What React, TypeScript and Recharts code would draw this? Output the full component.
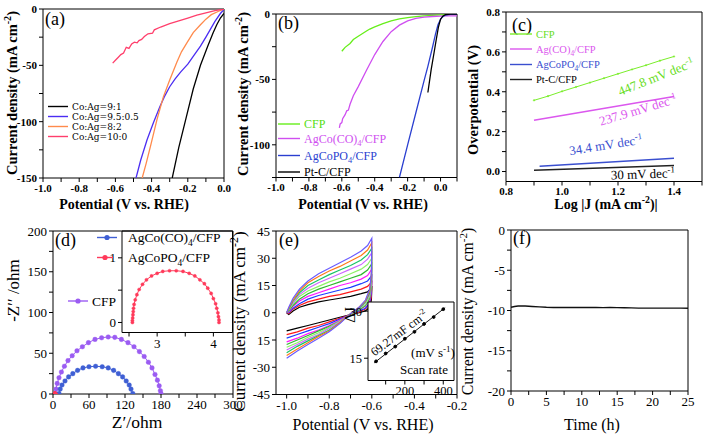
import React from 'react'
import { LineChart, Line, XAxis, YAxis, ReferenceArea, CartesianGrid } from 'recharts'

const SERIF = '"Liberation Serif", "Times New Roman", "DejaVu Serif", serif'
const WIDE_SERIF = '"DejaVu Serif", serif'

// (a) LSV, Co:Ag ratios  [potential (V vs RHE), current density (mA cm-2)]
const A_9_1 = [[0, -4], [-0.02, -8], [-0.04, -14], [-0.06, -21], [-0.09, -33], [-0.13, -50], [-0.17, -71], [-0.21, -97], [-0.25, -123], [-0.286, -150]]
const A_95_05 = [[0, -0.5], [-0.02, -4], [-0.05, -11], [-0.1, -25], [-0.13, -33], [-0.17, -42], [-0.2, -49], [-0.24, -56], [-0.27, -62], [-0.3, -69], [-0.33, -78], [-0.355, -87], [-0.39, -101], [-0.425, -116], [-0.46, -134], [-0.486, -150]]
const A_8_2 = [[0, 0], [-0.03, -2], [-0.07, -5], [-0.1, -9], [-0.13, -14], [-0.17, -21], [-0.205, -30], [-0.235, -38], [-0.26, -47], [-0.28, -55], [-0.3, -63], [-0.335, -78], [-0.37, -98], [-0.405, -121], [-0.43, -137], [-0.452, -150]]
const A_10_0 = [[0, 0], [-0.05, -1.5], [-0.1, -3.5], [-0.15, -5.5], [-0.2, -8], [-0.25, -10.5], [-0.3, -13], [-0.35, -16], [-0.385, -18.5], [-0.395, -21.5], [-0.42, -22], [-0.44, -24.5], [-0.455, -27], [-0.47, -28], [-0.48, -30], [-0.495, -29.5], [-0.51, -31], [-0.525, -35], [-0.54, -34], [-0.555, -39], [-0.57, -40.5], [-0.585, -43], [-0.6, -45.5], [-0.615, -48]]

// (b) LSV, catalysts
const B_CFP = [[0.1, -0.4], [0.05, -0.5], [0, -0.7], [-0.05, -1], [-0.1, -1.4], [-0.15, -2], [-0.2, -2.7], [-0.25, -3.8], [-0.3, -5.3], [-0.35, -7.3], [-0.4, -9.8], [-0.43, -11.5], [-0.45, -13], [-0.5, -17], [-0.53, -19.5], [-0.55, -22.5], [-0.58, -25.5], [-0.6, -28.5]]
const B_AGCO = [[0.1, -1.5], [0.05, -1.5], [0, -1.6], [-0.05, -1.9], [-0.1, -2.4], [-0.15, -3.3], [-0.2, -5.2], [-0.25, -8.5], [-0.3, -13.5], [-0.35, -21], [-0.4, -31], [-0.45, -43], [-0.5, -55.5], [-0.53, -62.5], [-0.55, -69], [-0.56, -73.5], [-0.57, -74], [-0.58, -77], [-0.595, -80], [-0.6, -83], [-0.61, -84], [-0.615, -87]]
const B_PO4 = [[0.1, -0.2], [0.06, -0.2], [0.03, -0.8], [0.01, -2.5], [0, -4], [-0.015, -8], [-0.03, -15], [-0.05, -26], [-0.077, -40], [-0.1, -51], [-0.15, -75.5], [-0.2, -100], [-0.25, -125]]
const B_PTC = [[0.1, 0], [0.06, 0], [0.03, -0.5], [0.015, -1.5], [0, -4], [-0.013, -10], [-0.026, -19.5], [-0.04, -30], [-0.057, -42.5], [-0.077, -60]]

// (c) Tafel  [log|J|, overpotential V]
const C_CFP = [[0.9, 0.357], [0.95, 0.378], [1.0, 0.402], [1.05, 0.424], [1.1, 0.446], [1.15, 0.468], [1.2, 0.49], [1.25, 0.512], [1.3, 0.533], [1.35, 0.556], [1.4, 0.577]]
const C_AGCO = [[0.9, 0.257], [1.4, 0.376]]
const C_PO4 = [[0.92, 0.026], [1.4, 0.066]]
const C_PTC = [[0.9, 0.006], [1.4, 0.03]]

// (d) Nyquist  [Z' ohm, -Z'' ohm]
const D_CFP = [[4, 0.5], [5, 6], [7, 13], [10, 20], [14, 27], [19, 34], [25, 41], [32, 47], [40, 53], [49, 58], [59, 63], [70, 67], [81, 69], [92, 70], [103, 69.5], [114, 67], [125, 63], [135, 58], [144, 52], [152, 46], [159, 39], [165, 32], [170, 24], [174, 17], [177, 10], [179, 4], [180, 0.5]]
const D_AGCO = [[10, 0.5], [12, 6], [15, 11], [20, 16], [26, 21], [33, 25], [41, 29], [50, 32], [60, 33.5], [71, 34], [82, 33.5], [92, 32], [101, 29], [109, 25], [116, 21], [122, 16], [127, 11], [130, 6], [133, 0.5]]
const D_PO4 = [[2.56, 0], [2.56, 0.03], [2.565, 0.07], [2.57, 0.12], [2.575, 0.17], [2.58, 0.22], [2.59, 0.28], [2.61, 0.35], [2.64, 0.43], [2.68, 0.51], [2.74, 0.59], [2.81, 0.66], [2.9, 0.72], [3.0, 0.76], [3.1, 0.79], [3.22, 0.8], [3.34, 0.8], [3.46, 0.79], [3.57, 0.76], [3.67, 0.72], [3.76, 0.66], [3.84, 0.6], [3.9, 0.53], [3.96, 0.45], [4.0, 0.37], [4.04, 0.29], [4.06, 0.22], [4.08, 0.15], [4.09, 0.09], [4.1, 0.04], [4.1, 0]]

// (e) CV loops at increasing scan rate, shared potentials for the two sweeps
const CV_UPPER_X = [-1.0, -0.99, -0.97, -0.94, -0.9, -0.85, -0.8, -0.75, -0.7, -0.65, -0.62, -0.6]
const CV_LOWER_X = [-0.6, -0.602, -0.61, -0.63, -0.66, -0.7, -0.75, -0.8, -0.85, -0.9, -0.95, -1.0]
const CV_UP = [
  [0, -1, 1, 3, 4.5, 6, 7, 8, 9, 10.5, 11.5, 14],
  [0, -0.5, 2, 4, 6, 7.5, 9, 10, 11.5, 13, 14.5, 17],
  [0, 0, 2.5, 5, 7.5, 9.5, 11, 12.5, 14, 16, 17.5, 20.5],
  [0, 0.5, 3.5, 6.5, 9, 11, 13, 15, 16.5, 18.5, 20.5, 24],
  [0, 1, 4, 7.5, 10.5, 13, 15, 17, 19, 21, 23.5, 27],
  [0, 1.5, 5, 9, 12, 14.5, 17, 19, 21.5, 24, 26.5, 30],
  [0, 2, 5.5, 10, 13.5, 16.5, 19, 21.5, 24, 26.5, 29.5, 33],
  [0, 2, 6.5, 11, 15, 18, 21, 23.5, 26, 29, 32, 35.5],
  [0, 2.5, 7, 12, 16.5, 20, 23, 25.5, 28.5, 31.5, 34.5, 38.5],
  [0, 3, 8, 13, 17.5, 21.5, 24.5, 27.5, 30.5, 34, 37, 41],
]
const CV_DOWN = [
  [14, 7, 3, 1, 0, -1, -2.5, -4, -5.5, -7, -8.5, -10],
  [17, 9, 4.5, 2, 0.5, -1, -3, -5, -7, -8.5, -10.5, -12],
  [20.5, 11, 5.5, 2.5, 1, -1, -3.5, -6, -8, -10, -12, -14],
  [24, 12.5, 7, 3.5, 1.5, -1, -4, -7, -9.5, -11.5, -14, -16],
  [27, 14, 8, 4, 1.5, -1, -4.5, -7.5, -10, -12.5, -15, -17.5],
  [30, 16, 9, 4.5, 2, -1, -4.5, -8, -11, -13.5, -16.5, -19],
  [33, 17.5, 10, 5.5, 2, -0.5, -5, -8.5, -12, -14.5, -17.5, -20.5],
  [35.5, 19, 11, 6, 2.5, -0.5, -5.5, -9.5, -12.5, -15.5, -18.5, -22],
  [38.5, 20.5, 12, 6.5, 3, -0.5, -5.5, -10, -13, -16.5, -20, -23.5],
  [41, 22, 13, 7, 3, -0.5, -6, -10.5, -14, -17.5, -21, -25],
]
const CV_COLORS = ['#000000', '#ff1a1a', '#1f3cff', '#ff19ff', '#2eb82e', '#8cf266', '#cc66ff', '#19c466', '#ff7a1a', '#6b5cff']
const SCAN_RATE = [50, 100, 150, 200, 250, 300, 350, 400]
const DELTA_J = [14.0, 16.5, 18.7, 21.2, 23.4, 25.9, 28.1, 30.6]
const DELTA_J_FIT = [[40, 13.5], [410, 31.1]]

// (f) chronoamperometry  [time h, current density]
const F_STAB = [[0, -9.6], [0.5, -9.5], [1, -9.45], [1.5, -9.45], [2, -9.45], [3, -9.5], [4, -9.55], [5, -9.6], [6, -9.62], [7, -9.62], [8, -9.63], [9, -9.62], [10, -9.63], [11, -9.63], [12, -9.62], [13, -9.64], [14, -9.63], [15, -9.64], [16, -9.66], [17, -9.68], [18, -9.7], [19, -9.7], [20, -9.71], [21, -9.7], [22, -9.7], [23, -9.71], [24, -9.7], [25, -9.72]]

// ticks (all) and labelled majors
const A_XT = [-1, -0.9, -0.8, -0.7, -0.6, -0.5, -0.4, -0.3, -0.2, -0.1, 0]
const A_XM = [-1, -0.8, -0.6, -0.4, -0.2, 0]
const A_YT = [-150, -125, -100, -75, -50, -25, 0]
const A_YM = [-150, -100, -50, 0]
const B_XT = [-1, -0.9, -0.8, -0.7, -0.6, -0.5, -0.4, -0.3, -0.2, -0.1, 0, 0.1]
const B_YT = [-125, -100, -75, -50, -25, 0]
const B_YM = [-100, -50, 0]
const C_XT = [0.8, 0.9, 1.0, 1.1, 1.2, 1.3, 1.4, 1.5]
const C_XM = [0.8, 1.0, 1.2, 1.4]
const C_YT = [0, 0.1, 0.2, 0.3, 0.4, 0.5, 0.6, 0.7, 0.8]
const C_YM = [0, 0.2, 0.4, 0.6, 0.8]
const D_XT = [0, 30, 60, 90, 120, 150, 180, 210, 240, 270, 300]
const D_XM = [0, 60, 120, 180, 240, 300]
const D_YT = [0, 25, 50, 75, 100, 125, 150, 175, 200]
const D_YM = [0, 50, 100, 150, 200]
const DI_XT = [2.5, 3, 3.5, 4]
const DI_XM = [3, 4]
const DI_YT = [0, 0.5, 1]
const DI_YM = [0, 1]
const E_XT = [-1, -0.9, -0.8, -0.7, -0.6, -0.5, -0.4, -0.3, -0.2]
const E_XM = [-1, -0.8, -0.6, -0.4, -0.2]
const E_YT = [-45, -30, -15, 0, 15, 30, 45]
const E_YLABELS = ['-45', '-30', '15', '0', '15', '30', '45']
const EI_XT = [100, 200, 300, 400]
const EI_XM = [200, 400]
const EI_YT = [15, 30]
const F_XT = [0, 2.5, 5, 7.5, 10, 12.5, 15, 17.5, 20, 22.5, 25]
const F_XM = [0, 5, 10, 15, 20, 25]
const F_YT = [-20, -17.5, -15, -12.5, -10, -7.5, -5, -2.5, 0]
const F_YM = [-20, -15, -10, -5, 0]

const pts = (a: number[][]) => a.map(([x, y]) => ({ x, y }))
const fmt = (major: number[], digits: number) => (v: number) =>
  major.some((m) => Math.abs(m - v) < 1e-9) ? v.toFixed(digits) : ''

const TOP_FONT = { fontSize: 11, fontWeight: 700, fontFamily: SERIF, fill: '#000' }
const BOT_FONT = { fontSize: 13, fontFamily: SERIF, fill: '#000' }

type Box = { x0: number; y0: number; x1: number; y1: number }
const BOX_A: Box = { x0: 43, y0: 9, x1: 224, y1: 178 }
const BOX_B: Box = { x0: 275.5, y0: 14, x1: 456.5, y1: 177.5 }
const BOX_C: Box = { x0: 506, y0: 12, x1: 702, y1: 181.5 }
const BOX_D: Box = { x0: 52.5, y0: 230.5, x1: 232.5, y1: 393.5 }
const BOX_DI: Box = { x0: 122, y0: 230.5, x1: 232.5, y1: 332 }
const BOX_E: Box = { x0: 276, y0: 230.5, x1: 457, y1: 394 }
const BOX_EI: Box = { x0: 368, y0: 301.5, x1: 454, y1: 380 }
const BOX_F: Box = { x0: 511, y0: 230, x1: 688, y1: 391 }
const PAD = 6
const RPAD = 16

function Panel({ box, yw, xh, children }: { box: Box; yw: number; xh: number; children: React.ReactNode }) {
  const left = box.x0 - yw
  const top = box.y0 - PAD
  const width = box.x1 - left + RPAD
  const height = box.y1 - top + xh
  return (
    <div style={{ position: 'absolute', left, top }}>
      <LineChart width={width} height={height} margin={{ top: PAD, right: RPAD, bottom: 0, left: 0 }}>
        {children}
      </LineChart>
    </div>
  )
}

const xAxis = (domain: number[], ticks: number[], f: (v: number) => string, h: number, font: object) => (
  <XAxis type="number" dataKey="x" domain={domain} ticks={ticks} tickFormatter={f} interval={0}
    allowDataOverflow axisLine={false} tickLine={{ stroke: '#000' }} tickSize={4} height={h} tick={font} />
)
const yAxis = (domain: number[], ticks: number[], f: (v: number) => string, w: number, font: object) => (
  <YAxis type="number" domain={domain} ticks={ticks} tickFormatter={f} interval={0}
    allowDataOverflow axisLine={false} tickLine={{ stroke: '#000' }} tickSize={4} width={w} tick={font} />
)
const frame = (x: number[], y: number[]) => (
  <ReferenceArea x1={x[0]} x2={x[1]} y1={y[0]} y2={y[1]} fill="none" stroke="#000" strokeWidth={1} ifOverflow="visible" />
)
const curve = (d: number[][], color: string, w = 1.3, key?: string) => (
  <Line key={key} data={pts(d)} dataKey="y" type="linear" stroke={color} strokeWidth={w} dot={false} isAnimationActive={false} />
)
const dotted = (d: number[][], color: string, r: number) => (
  <Line data={pts(d)} dataKey="y" type="linear" stroke={color} strokeWidth={1} isAnimationActive={false}
    dot={{ r, fill: color, stroke: color, strokeWidth: 0.4 }} />
)

type Seg = string | { sub: string } | { sup: string }
function rich(parts: Seg[], fs: number) {
  let shift = 0
  return parts.map((p, i) => {
    if (typeof p === 'string') {
      const dy = -shift
      shift = 0
      return <tspan key={i} dy={dy}>{p}</tspan>
    }
    const isSub = 'sub' in p
    const target = isSub ? fs * 0.3 : -fs * 0.38
    const dy = target - shift
    shift = target
    return <tspan key={i} dy={dy} fontSize={fs * 0.7}>{isSub ? (p as any).sub : (p as any).sup}</tspan>
  })
}

function T({ x, y, size, parts, bold = false, rot = 0, color = '#000', anchor = 'middle', family = SERIF }:
  { x: number; y: number; size: number; parts: Seg[]; bold?: boolean; rot?: number; color?: string; anchor?: string; family?: string }) {
  return (
    <text x={x} y={y + size * 0.34} fontSize={size} fontWeight={bold ? 700 : 400} fill={color} fontFamily={family}
      textAnchor={anchor as any} transform={rot ? `rotate(${rot} ${x} ${y})` : undefined}>
      {rich(parts, size)}
    </text>
  )
}

function Key({ x, y, w, size, color, parts, text = '#000', marker = false, gap = 4, family = SERIF }:
  { x: number; y: number; w: number; size: number; color: string; parts: Seg[]; text?: string; marker?: boolean; gap?: number; family?: string }) {
  return (
    <g>
      <line x1={x} y1={y} x2={x + w} y2={y} stroke={color} strokeWidth={1.4} />
      {marker && <circle cx={x + w / 2} cy={y} r={2.6} fill={color} />}
      <T x={x + w + gap} y={y} size={size} color={text} anchor="start" parts={parts} family={family} />
    </g>
  )
}

const CD: Seg[] = ['Current density (mA cm', { sup: '-2' }, ')']
const POT: Seg[] = ['Potential (V vs. RHE)']

function Overlay() {
  return (
    <svg width={707} height={438} style={{ position: 'absolute', left: 0, top: 0 }}>
      {/* panel letters */}
      <T x={45} y={19} size={18} anchor="start" parts={['(a)']} />
      <T x={278} y={23} size={18} anchor="start" parts={['(b)']} />
      <T x={512} y={25} size={18} anchor="start" parts={['(c)']} />
      <T x={55} y={240} size={18} anchor="start" parts={['(d)']} />
      <T x={279} y={240} size={18} anchor="start" parts={['(e)']} />
      <T x={513} y={238} size={18} anchor="start" parts={['(f)']} />

      {/* axis titles, top row */}
      <T x={12} y={93} size={14.5} bold rot={-90} parts={CD} />
      <T x={124} y={204} size={14} bold parts={POT} />
      <T x={243} y={94} size={14.5} bold rot={-90} parts={CD} />
      <T x={363} y={204} size={14} bold parts={POT} />
      <T x={473} y={100} size={14.5} bold rot={-90} parts={['Overpotential (V)']} />
      <T x={606} y={204} size={14} bold parts={['Log |J (mA cm', { sup: '-2' }, ')|']} />

      {/* axis titles, bottom row */}
      <T x={13} y={290.5} size={17} rot={-90} parts={['-Z′′ /ohm']} />
      <T x={137} y={422} size={17.5} parts={['Z′/ohm']} />
      <T x={239} y={321.5} size={17} rot={-90} parts={CD} />
      <T x={363} y={425} size={16} parts={POT} />
      <T x={468} y={311.5} size={15.8} rot={-90} parts={CD} />
      <T x={592} y={425} size={16} parts={['Time (h)']} />

      {/* legend (a) */}
      <Key x={48} y={106.5} w={20} size={9} family={WIDE_SERIF} color="#000" parts={['Co:Ag=9:1']} />
      <Key x={48} y={116.5} w={20} size={9} family={WIDE_SERIF} color="#4b2df2" parts={['Co:Ag=9.5:0.5']} />
      <Key x={48} y={126.5} w={20} size={9} family={WIDE_SERIF} color="#ff8a4c" parts={['Co:Ag=8:2']} />
      <Key x={48} y={136.5} w={20} size={9} family={WIDE_SERIF} color="#ff3f6c" parts={['Co:Ag=10:0']} />

      {/* legend (b) */}
      <Key x={278} y={124} w={22} size={12} color="#66ee1a" text="#55dd11" parts={['CFP']} />
      <Key x={278} y={138.5} w={22} size={12} color="#cf4ff0" text="#cf4ff0" parts={['AgCo(CO)', { sub: '4' }, '/CFP']} />
      <Key x={278} y={155.5} w={22} size={12} color="#2a3fd0" text="#2a3fd0" parts={['AgCoPO', { sub: '4' }, '/CFP']} />
      <Key x={278} y={172} w={22} size={12} color="#000" parts={['Pt-C/CFP']} />

      {/* legend (c) */}
      <Key x={510} y={34} w={22} size={10.5} color="#7aee2a" text="#66dd22" parts={['CFP']} />
      <Key x={510} y={49} w={22} size={10.5} color="#db57ee" text="#db57ee" parts={['Ag(CO)', { sub: '4' }, '/CFP']} />
      <Key x={510} y={64.5} w={22} size={10.5} color="#3a4fcf" text="#3a4fcf" parts={['AgCoPO', { sub: '4' }, '/CFP']} />
      <Key x={510} y={79.5} w={22} size={10.5} color="#222" parts={['Pt-C/CFP']} />

      {/* Tafel slopes */}
      <T x={656} y={77} size={13} rot={-21.7} color="#66dd22" parts={['447.8 mV dec', { sup: '-1' }]} />
      <T x={638} y={110} size={13} rot={-16.8} color="#db57ee" parts={['237.9 mV dec', { sup: '-1' }]} />
      <T x={606} y={145} size={13} rot={-9} color="#3a4fcf" parts={['34.4 mV dec', { sup: '-1' }]} />
      <T x={643} y={174} size={13} rot={-2} color="#000" parts={['30 mV dec', { sup: '-1' }]} />

      {/* legend (d) */}
      <Key x={97} y={237.5} w={20} size={13.5} color="#3f5fd4" marker gap={11} parts={['AgCo(CO)', { sub: '4' }, '/CFP']} />
      <Key x={97} y={257.5} w={16} size={13.5} color="#ff3a5a" marker gap={15} parts={['AgCoPO', { sub: '4' }, '/CFP']} />
      <Key x={68} y={301} w={20} size={13.5} color="#9b5cf2" marker parts={['CFP']} />

      {/* (e) inset texts */}
      <T x={350} y={315} size={15} rot={-90} parts={['ΔJ']} />
      <T x={399} y={333} size={12} rot={-37} parts={['69.27mF cm', { sup: '-2' }]} />
      <T x={433} y={353} size={13} parts={['(mV s', { sup: '-1' }, ')']} />
      <T x={424} y={370} size={13} parts={['Scan  rate']} />
    </svg>
  )
}

export default function App() {
  return (
    <div style={{ position: 'relative', width: 707, height: 438, overflow: 'hidden', background: '#fff' }}>
      <style>{'body{margin:0}'}</style>

      <Panel box={BOX_A} yw={42} xh={26}>
        {xAxis([-1, 0], A_XT, fmt(A_XM, 1), 26, TOP_FONT)}
        {yAxis([-150, 0], A_YT, fmt(A_YM, 0), 42, TOP_FONT)}
        {frame([-1, 0], [-150, 0])}
        {curve(A_9_1, '#000000')}
        {curve(A_95_05, '#4b2df2')}
        {curve(A_8_2, '#ff8a4c')}
        {curve(A_10_0, '#ff3f6c')}
      </Panel>

      <Panel box={BOX_B} yw={40} xh={26}>
        {xAxis([-1, 0.1], B_XT, fmt(A_XM, 1), 26, TOP_FONT)}
        {yAxis([-125, 0], B_YT, fmt(B_YM, 0), 40, TOP_FONT)}
        {frame([-1, 0.1], [-125, 0])}
        {curve(B_CFP, '#66ee1a')}
        {curve(B_AGCO, '#cf4ff0')}
        {curve(B_PO4, '#2a3fd0')}
        {curve(B_PTC, '#000000')}
      </Panel>

      <Panel box={BOX_C} yw={40} xh={26}>
        {xAxis([0.8, 1.5], C_XT, fmt(C_XM, 1), 26, TOP_FONT)}
        {yAxis([-0.05, 0.8], C_YT, fmt(C_YM, 1), 40, TOP_FONT)}
        {frame([0.8, 1.5], [-0.05, 0.8])}
        {dotted(C_CFP, '#7aee2a', 0.8)}
        {curve(C_AGCO, '#db57ee', 1.5)}
        {curve(C_PO4, '#3a4fcf', 1.5)}
        {curve(C_PTC, '#222222', 1.5)}
      </Panel>

      <Panel box={BOX_D} yw={44} xh={26}>
        {xAxis([0, 300], D_XT, fmt(D_XM, 0), 26, BOT_FONT)}
        {yAxis([0, 200], D_YT, fmt(D_YM, 0), 44, BOT_FONT)}
        {frame([0, 300], [0, 200])}
        {dotted(D_CFP, '#9b5cf2', 2.3)}
        {dotted(D_AGCO, '#3f5fd4', 2.3)}
        {dotted(D_PO4, '#ff3a5a', 1.6)}
      </Panel>

      <Panel box={BOX_DI} yw={14} xh={18}>
        {xAxis([2.375, 4.34], DI_XT, fmt(DI_XM, 0), 18, BOT_FONT)}
        {yAxis([-0.155, 1.415], DI_YT, fmt(DI_YM, 0), 14, BOT_FONT)}
        {frame([2.375, 4.34], [-0.155, 1.415])}
        {dotted(D_PO4, '#ff3a5a', 1.6)}
      </Panel>

      <Panel box={BOX_E} yw={40} xh={26}>
        {xAxis([-1.05, -0.2], E_XT, fmt(E_XM, 1), 26, BOT_FONT)}
        {yAxis([-45, 45], E_YT, (v: number) => E_YLABELS[E_YT.indexOf(v)] ?? '', 40, BOT_FONT)}
        {frame([-1.05, -0.2], [-45, 45])}
        {CV_UP.map((up, i) =>
          curve(
            [...CV_UPPER_X.map((x, j) => [x, up[j]]), ...CV_LOWER_X.map((x, j) => [x, CV_DOWN[i][j]])],
            CV_COLORS[i], 1.2, `cv${i}`,
          ),
        )}
      </Panel>

      <Panel box={BOX_EI} yw={24} xh={22}>
        <CartesianGrid fill="#fff" horizontal={false} vertical={false} />
        {xAxis([8, 456], EI_XT, fmt(EI_XM, 0), 22, { ...BOT_FONT, fontSize: 12.5 })}
        {yAxis([7.9, 32.9], EI_YT, fmt(EI_YT, 0), 24, { ...BOT_FONT, fontSize: 12.5 })}
        {frame([8, 456], [7.9, 32.9])}
        {curve(DELTA_J_FIT, '#000', 0.9)}
        <Line data={SCAN_RATE.map((x, i) => ({ x, y: DELTA_J[i] }))} dataKey="y" stroke="none" isAnimationActive={false}
          dot={{ r: 1.4, fill: '#000', stroke: '#000' }} />
      </Panel>

      <Panel box={BOX_F} yw={40} xh={26}>
        {xAxis([0, 25], F_XT, fmt(F_XM, 0), 26, BOT_FONT)}
        {yAxis([-20, 0], F_YT, fmt(F_YM, 0), 40, BOT_FONT)}
        {frame([0, 25], [-20, 0])}
        {curve(F_STAB, '#111111', 1.4)}
      </Panel>

      <Overlay />
    </div>
  )
}
